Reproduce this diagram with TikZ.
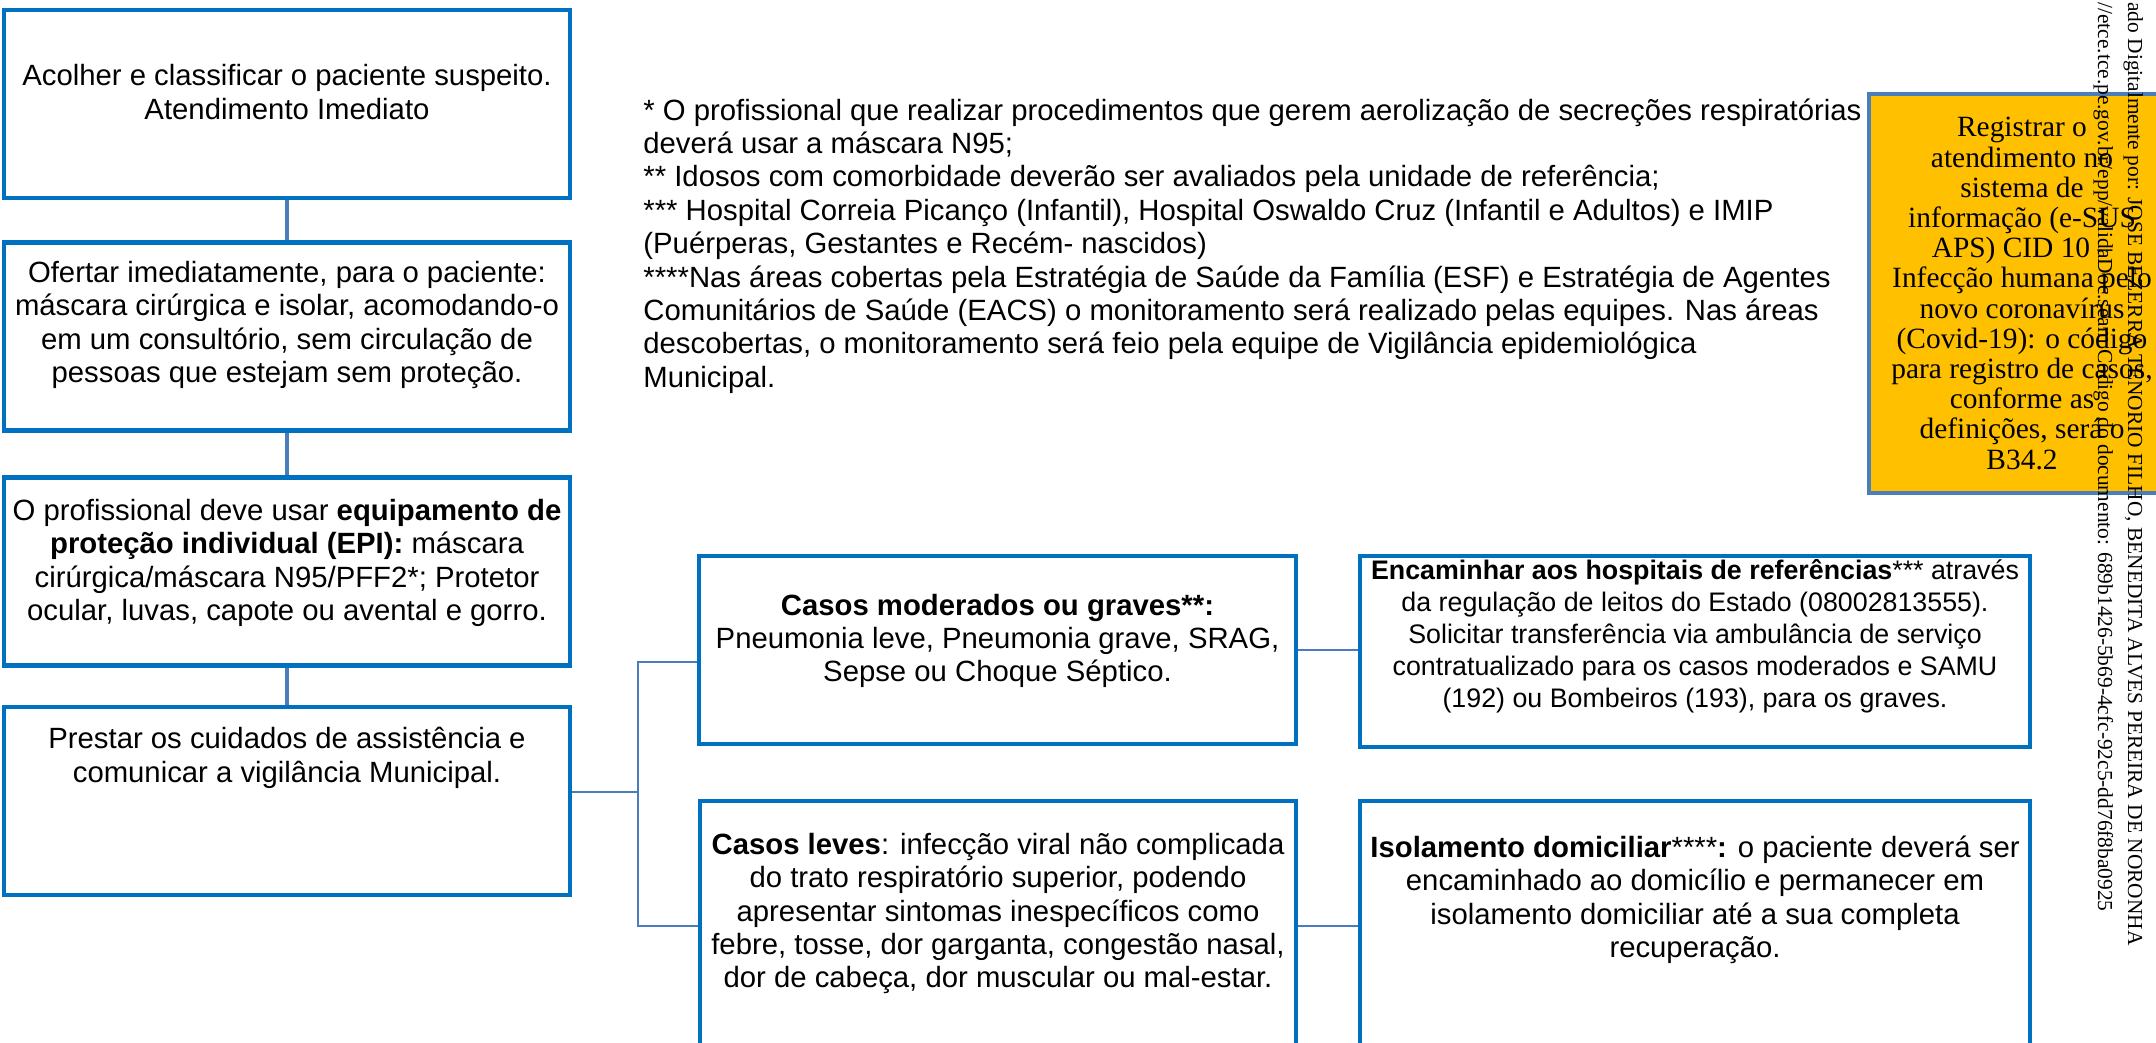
\documentclass[tikz,border=0pt]{standalone}
\usepackage{fontspec}
\setmainfont{Liberation Sans}
\newfontfamily\seriffont{Liberation Serif}
\definecolor{boxblue}{HTML}{0070C0}
\definecolor{linkblue}{HTML}{4A7EBB}
\definecolor{notegold}{HTML}{FFC000}
\begin{document}
\begin{tikzpicture}[x=0.5pt,y=-0.5pt,
  box/.style={draw=boxblue,line width=2.25pt,inner sep=0pt},
  leftbox/.style={box,minimum width=283pt,minimum height=94pt},
  txt/.style={align=center,inner sep=0pt,font=\fontsize{14.65}{16.7}\selectfont},
  link/.style={draw=linkblue,line width=1.6pt},
  fork/.style={draw=linkblue,line width=0.7pt},
  stamp/.style={rotate=-90,anchor=base west,inner sep=0pt,font=\seriffont\fontsize{10.7}{12}\selectfont}]
\useasboundingbox (0,0) rectangle (2156,1043);
\clip (0,0) rectangle (2156,1043);
% left column
\node[leftbox] (acolher) at (287,104) {};
\node[txt] (tacolher) at (287,92) {Acolher e classificar o paciente suspeito.\\Atendimento Imediato};
\node[leftbox] (ofertar) at (287,336.5) {};
\node[txt] (tofertar) at (287,325) {Ofertar imediatamente, para o paciente:\\máscara cirúrgica e isolar, acomodando-o\\em um consultório, sem circulação de\\pessoas que estejam sem proteção.};
\node[leftbox] (epi) at (287,571.5) {};
\node[txt] (tepi) at (287,563) {O profissional deve usar \textbf{equipamento de}\\\textbf{proteção individual (EPI):} máscara\\cirúrgica/máscara N95/PFF2*; Protetor\\ocular, luvas, capote ou avental e gorro.};
\node[leftbox] (prestar) at (287,801) {};
\node[txt] (tprestar) at (287,758) {Prestar os cuidados de assistência e\\comunicar a vigilância Municipal.};
\draw[link] (acolher) -- (ofertar);
\draw[link] (ofertar) -- (epi);
\draw[link] (epi) -- (prestar);
% casos
\node[box,minimum width=298.5pt,minimum height=94pt] (moderados) at (997.5,650) {};
\node[txt] (tmoderados) at (997.5,641) {\textbf{Casos moderados ou graves**:}\\Pneumonia leve, Pneumonia grave, SRAG,\\Sepse ou Choque Séptico.};
\node[box,minimum width=298pt,minimum height=125pt] (leves) at (998,926) {};
\node[txt] (tleves) at (998,913.5) {\textbf{Casos leves}: infecção viral não complicada\\do trato respiratório superior, podendo\\apresentar sintomas inespecíficos como\\febre, tosse, dor garganta, congestão nasal,\\dor de cabeça, dor muscular ou mal-estar.};
\coordinate (fork) at (638,792);
\draw[fork] (fork -| prestar.east) -- (fork);
\draw[fork] ([yshift=-6pt]moderados.west) -| (fork) |- (leves.west);
% condutas
\node[box,minimum width=335pt,minimum height=95.5pt] (encaminhar) at (1695,651.5) {};
\node[txt,font=\fontsize{13.4}{16}\selectfont] (tencaminhar) at (1695,636.5) {\textbf{Encaminhar aos hospitais de referências}*** através\\da regulação de leitos do Estado (08002813555).\\Solicitar transferência via ambulância de serviço\\contratualizado para os casos moderados e SAMU\\(192) ou Bombeiros (193), para os graves.};
\node[box,minimum width=335pt,minimum height=126pt] (isolamento) at (1695,927) {};
\node[txt] (tisolamento) at (1695,900) {\textbf{Isolamento domiciliar}****\textbf{:} o paciente deverá ser\\encaminhado ao domicílio e permanecer em\\isolamento domiciliar até a sua completa\\recuperação.};
\draw[fork] (moderados.east) -- (moderados.east -| encaminhar.west);
\draw[fork] (leves.east) -- (leves.east -| isolamento.west);
% notas
\node[txt,align=left,anchor=west] (notas) at (643,246) {* O profissional que realizar procedimentos que gerem aerolização de secreções respiratórias\\deverá usar a máscara N95;\\** Idosos com comorbidade deverão ser avaliados pela unidade de referência;\\*** Hospital Correia Picanço (Infantil), Hospital Oswaldo Cruz (Infantil e Adultos) e IMIP\\(Puérperas, Gestantes e Recém- nascidos)\\****Nas áreas cobertas pela Estratégia de Saúde da Família (ESF) e Estratégia de Agentes\\Comunitários de Saúde (EACS) o monitoramento será realizado pelas equipes. Nas áreas\\descobertas, o monitoramento será feio pela equipe de Vigilância epidemiológica\\Municipal.};
\node[draw=linkblue,fill=notegold,line width=2.25pt,minimum width=153pt,minimum height=199.5pt] (registro) at (2022,293.5) {};
\node[txt,font=\seriffont\fontsize{14.7}{15.1}\selectfont] (tregistro) at (2022,293.5) {Registrar o\\atendimento no\\sistema de\\informação (e-SUS\\APS) CID 10 –\\Infecção humana pelo\\novo coronavírus\\(Covid-19): o código\\para registro de casos,\\conforme as\\definições, será o\\B34.2};
% assinatura
\node[stamp] (assinatura) at (2128,2) {ado Digitalmente por: JOSE BEZERRA TENORIO FILHO, BENEDITA ALVES PEREIRA DE NORONHA};
\node[stamp] (validacao) at (2098,2) {//etce.tce.pe.gov.br/epp/validaDoc.seam Código do documento: 689b1426-5b69-4cfc-92c5-dd76f8ba0925};
\end{tikzpicture}
\end{document}
